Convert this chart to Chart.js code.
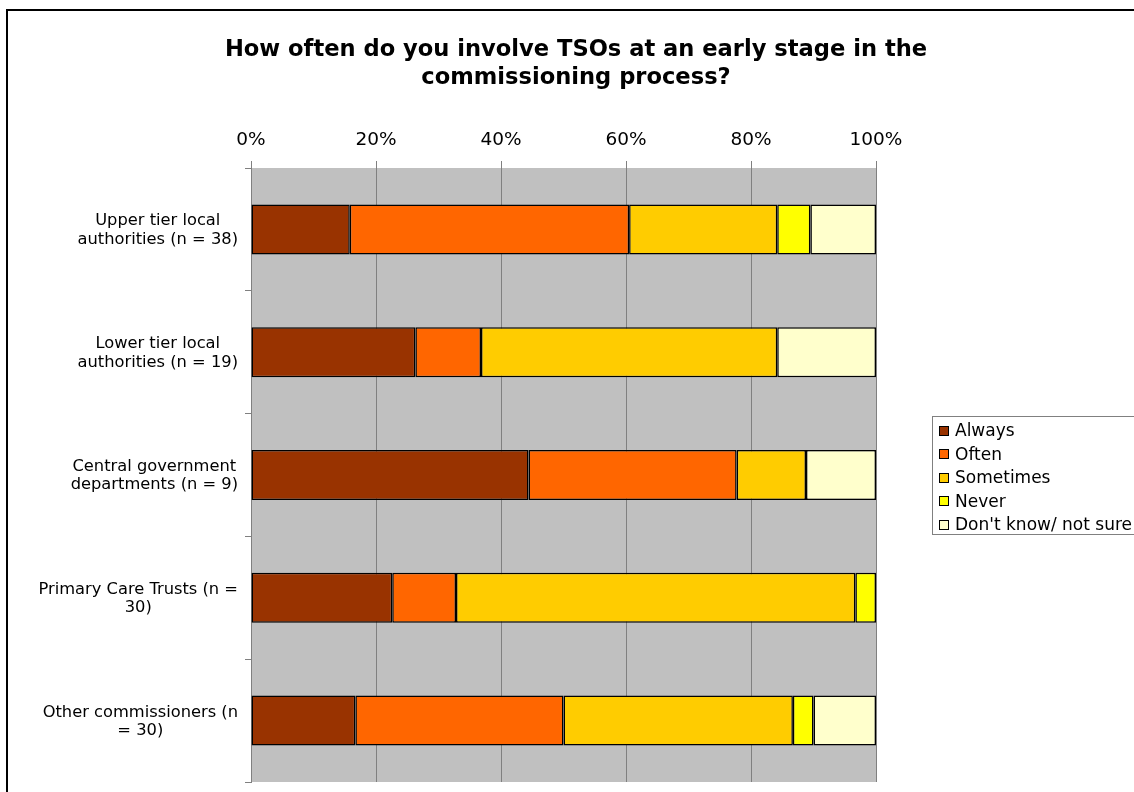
<!DOCTYPE html>
<html>
<head>
<meta charset="utf-8">
<script src="https://cdn.jsdelivr.net/npm/chart.js@4.4.1/dist/chart.umd.min.js"></script>
<style>
  html, body { margin: 0; padding: 0; background: #fff; }
  #wrap { position: relative; width: 1134px; height: 792px; overflow: hidden; }
  #frame { position: absolute; left: 6px; top: 9px; width: 1300px; height: 900px;
           border-left: 2px solid #000; border-top: 2px solid #000; }
  #title { position: absolute; left: 0; top: 35px; width: 1152px; text-align: center;
           font: bold 22.6px "DejaVu Sans", sans-serif; line-height: 27.5px; color: #000; }
  #chart { position: absolute; left: 0; top: 0; }
  #legend { position: absolute; left: 932px; top: 416px; width: 240px; height: 119px;
            box-sizing: border-box; border: 1px solid #808080; background: #fff;
            padding-top: 2px; font: 17px "DejaVu Sans", sans-serif; color: #000; }
  .item { position: relative; height: 23.5px; line-height: 23.5px; padding-left: 22px; white-space: nowrap; }
  .swatch { position: absolute; left: 6px; top: 6.5px; width: 8px; height: 8px; border: 1px solid #000; }
</style>
</head>
<body>
<div id="wrap">
  <div id="frame"></div>
  <canvas id="chart" width="1134" height="792"></canvas>
  <div id="title">How often do you involve TSOs at an early stage in the<br>commissioning process?</div>
  <div id="legend"></div>
</div>
<script>
// Respondent groups, one label line per array entry
const categoryLines = [
  ["Upper tier local", "authorities (n = 38)"],
  ["Lower tier local", "authorities (n = 19)"],
  ["Central government", "departments (n = 9)"],
  ["Primary Care Trusts (n =", "30)"],
  ["Other commissioners (n", "= 30)"]
];

// Answer shares in percent, per group
const seriesNames = ["Always", "Often", "Sometimes", "Never", "Don't know/ not sure"];
const always    = [15.8, 26.3, 44.4, 22.6, 16.7];
const often     = [44.7, 10.5, 33.3, 10.2, 33.3];
const sometimes = [23.7, 47.4, 11.1, 63.9, 36.7];
const never     = [5.3, 0, 0, 3.3, 3.3];
const dontKnow  = [10.5, 15.8, 11.2, 0, 10.0];

const seriesColors = ["#993300", "#FF6600", "#FFCC00", "#FFFF00", "#FFFFCC"];
const seriesValues = [always, often, sometimes, never, dontKnow];

// Percentage axis ticks
const tickValues = [0, 20, 40, 60, 80, 100];
const tickLabels = ["0%", "20%", "40%", "60%", "80%", "100%"];

// Grey plot background
const plotBackground = {
  id: 'plotBackground',
  beforeDraw(chart) {
    const { ctx, chartArea: a } = chart;
    ctx.save();
    ctx.fillStyle = '#C0C0C0';
    ctx.fillRect(a.left, a.top, a.right - a.left, a.bottom - a.top);
    ctx.restore();
  }
};

// Group labels: each block right-aligned to the axis, lines centred within it
const categoryLabels = {
  id: 'categoryLabels',
  afterDraw(chart) {
    const { ctx, chartArea, scales: { y } } = chart;
    const right = chartArea.left - 13;
    const lineH = 18.5;
    ctx.save();
    ctx.font = '16.3px "DejaVu Sans", sans-serif';
    ctx.fillStyle = '#000';
    ctx.textAlign = 'center';
    ctx.textBaseline = 'middle';
    categoryLines.forEach((lines, i) => {
      const yc = y.getPixelForValue(i) + 1;
      const w = Math.max(...lines.map(l => ctx.measureText(l).width));
      const cx = right - w / 2;
      const y0 = yc - (lines.length - 1) * lineH / 2;
      lines.forEach((l, k) => ctx.fillText(l, cx, y0 + k * lineH));
    });
    ctx.restore();
  }
};

new Chart(document.getElementById('chart'), {
  type: 'bar',
  data: {
    labels: categoryLines,
    datasets: seriesNames.map((name, i) => ({
      label: name,
      data: seriesValues[i],
      backgroundColor: seriesColors[i],
      borderColor: '#000',
      borderWidth: 1.5,
      borderSkipped: false,
      barPercentage: 0.407,
      categoryPercentage: 1
    }))
  },
  options: {
    indexAxis: 'y',
    responsive: false,
    animation: false,
    devicePixelRatio: 1,
    layout: { padding: { left: 0, top: 108, right: 258, bottom: 10 } },
    plugins: {
      legend: { display: false },
      title: { display: false },
      tooltip: { enabled: false }
    },
    scales: {
      x: {
        position: 'top',
        stacked: true,
        min: 0,
        max: 100,
        afterBuildTicks(scale) { scale.ticks = tickValues.map(v => ({ value: v })); },
        ticks: {
          callback: (v) => tickLabels[tickValues.indexOf(v)],
          color: '#000',
          font: { family: 'DejaVu Sans', size: 18.5 },
          padding: 10,
          maxRotation: 0,
          autoSkip: false
        },
        grid: { color: '#808080', lineWidth: 1, tickLength: 7 },
        border: { display: false },
        afterFit(scale) { scale.height = 60; }
      },
      y: {
        stacked: true,
        ticks: { display: false },
        grid: { offset: true, drawOnChartArea: false, color: '#808080', tickLength: 6 },
        border: { display: true, color: '#808080' },
        afterFit(scale) { scale.width = 251; }
      }
    }
  },
  plugins: [plotBackground, categoryLabels]
});

// Legend built from the same series names and colours
const legend = document.getElementById('legend');
seriesNames.forEach((name, i) => {
  const row = document.createElement('div');
  row.className = 'item';
  const sw = document.createElement('span');
  sw.className = 'swatch';
  sw.style.background = seriesColors[i];
  row.appendChild(sw);
  row.appendChild(document.createTextNode(name));
  legend.appendChild(row);
});
</script>
</body>
</html>
